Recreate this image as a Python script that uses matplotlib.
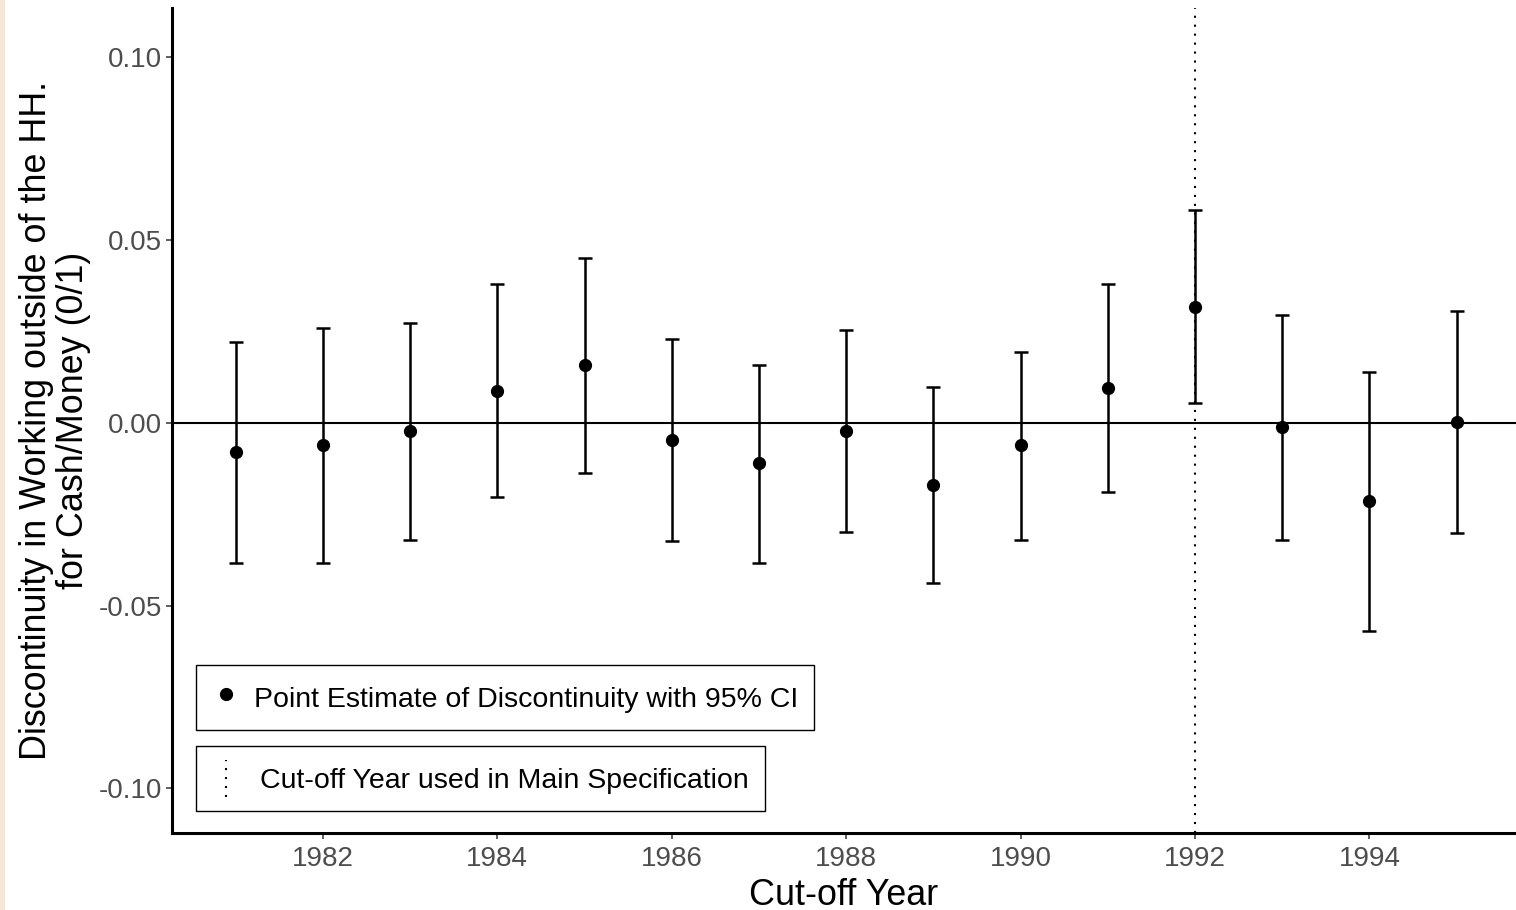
import numpy as np
import matplotlib
matplotlib.use("Agg")
from matplotlib import pyplot as plt
from matplotlib.lines import Line2D
from matplotlib.legend_handler import HandlerBase
from matplotlib.patches import Rectangle

plt.rcParams['font.family'] = ['Liberation Sans', 'DejaVu Sans']

# cut-off years and estimates with 95% CI
years = [1981, 1982, 1983, 1984, 1985, 1986, 1987, 1988, 1989, 1990, 1991, 1992, 1993, 1994, 1995]
estimate = [-0.0079, -0.0060, -0.0022, 0.0088, 0.0159, -0.0047, -0.0109, -0.0022, -0.0170, -0.0060, 0.0096, 0.0317, -0.0011, -0.0213, 0.0003]
ci_upper = [0.0222, 0.0260, 0.0274, 0.0380, 0.0451, 0.0230, 0.0159, 0.0254, 0.0098, 0.0194, 0.0380, 0.0583, 0.0295, 0.0140, 0.0306]
ci_lower = [-0.0383, -0.0383, -0.0320, -0.0202, -0.0137, -0.0323, -0.0383, -0.0298, -0.0438, -0.0320, -0.0189, 0.0055, -0.0320, -0.0569, -0.0301]
main_cutoff = 1992
xticks = [1982, 1984, 1986, 1988, 1990, 1992, 1994]
yticks = [-0.10, -0.05, 0.00, 0.05, 0.10]
ytick_labels = ['-0.10', '-0.05', '0.00', '0.05', '0.10']


class VLineHandler(HandlerBase):
    # vertical dotted line as legend key
    def create_artists(self, legend, orig_handle, xdescent, ydescent, width, height, fontsize, trans):
        x = width / 2 - xdescent
        ln = Line2D([x, x], [-ydescent - 0.05 * height, height * 1.05 - ydescent],
                    color='black', lw=1.5, linestyle=(0, (1, 3.3)), transform=trans)
        return [ln]


fig = plt.figure(figsize=(15.16, 9.10), dpi=100)
fig.patches.append(Rectangle((0, 0), 5 / 1516, 1, transform=fig.transFigure,
                             facecolor='#F2E8D5', edgecolor='none'))
ax = fig.add_axes([172 / 1516, 77 / 910, 1 - 172 / 1516, 825 / 910])

est = np.array(estimate)
err = np.array([est - np.array(ci_lower), np.array(ci_upper) - est])

ax.axhline(0, color='black', lw=1.5, zorder=1)
ax.axvline(main_cutoff, color='black', lw=1.5, linestyle=(0, (1, 3.3)), zorder=1)
ax.errorbar(years, estimate, yerr=err, fmt='o', color='black', ms=8.5,
            elinewidth=1.8, capsize=4.8, capthick=1.8, zorder=3)

ax.set_xlim(1980.27, 1995.68)
ax.set_ylim(-0.1122, 0.1135)
ax.set_xticks(xticks)
ax.set_yticks(yticks)
ax.set_yticklabels(ytick_labels)
ax.tick_params(axis='both', labelsize=20, labelcolor='#4D4D4D', color='#333333',
               length=4, width=1.1, pad=3)
ax.tick_params(axis='x', pad=5.5)

for s in ['top', 'right']:
    ax.spines[s].set_visible(False)
for s in ['left', 'bottom']:
    ax.spines[s].set_linewidth(2.2)
    ax.spines[s].set_color('black')

ax.set_xlabel('Cut-off Year', fontsize=25.8, labelpad=4)
ax.set_ylabel('Discontinuity in Working outside of the HH.\nfor Cash/Money (0/1)',
              fontsize=25.8, labelpad=6, linespacing=1.05)

h1 = Line2D([], [], marker='o', color='black', linestyle='none', ms=8.5)
leg1 = ax.legend([h1], ['Point Estimate of Discontinuity with 95% CI'],
                 loc='lower left', bbox_to_anchor=(0.0179, 0.125), borderaxespad=0,
                 fontsize=20.5, fancybox=False, edgecolor='black', framealpha=1,
                 handlelength=1.0, handleheight=1.45, handletextpad=0.5, borderpad=0.55)
leg1.get_frame().set_linewidth(1.0)
ax.add_artist(leg1)

h2 = Line2D([], [], color='black')
leg2 = ax.legend([h2], ['Cut-off Year used in Main Specification'],
                 loc='lower left', bbox_to_anchor=(0.0179, 0.0267), borderaxespad=0,
                 fontsize=20.5, fancybox=False, edgecolor='black', framealpha=1,
                 handlelength=1.0, handleheight=1.45, handletextpad=0.7, borderpad=0.55,
                 handler_map={h2: VLineHandler()})
leg2.get_frame().set_linewidth(1.0)

fig.savefig('out.png', dpi=100)
